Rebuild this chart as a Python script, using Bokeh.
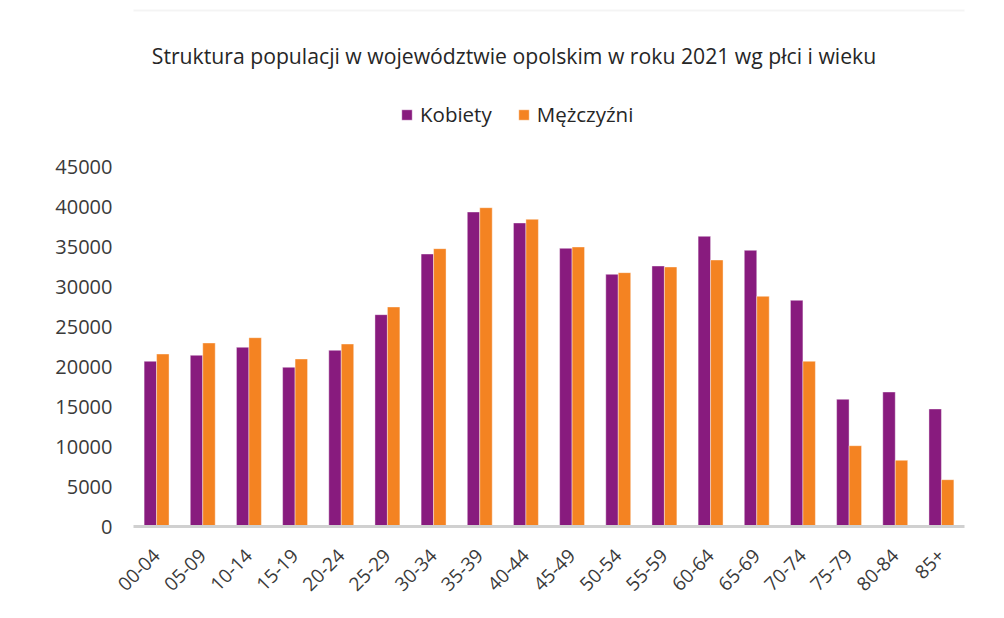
from bokeh.plotting import figure
from bokeh.models import (ColumnDataSource, Range1d, FixedTicker, Legend, LegendItem,
                          NumeralTickFormatter, BoxAnnotation)
from bokeh.transform import dodge
from bokeh.core.properties import value
from bokeh.embed import file_html
from bokeh.resources import INLINE
import math

# ---- data ----
ages = ["00-04", "05-09", "10-14", "15-19", "20-24", "25-29", "30-34", "35-39", "40-44",
        "45-49", "50-54", "55-59", "60-64", "65-69", "70-74", "75-79", "80-84", "85+"]
kobiety = [20650, 21400, 22400, 19900, 22020, 26480, 34060, 39310, 37940,
           34770, 31520, 32560, 36270, 34520, 28270, 15900, 16810, 14690]
mezczyzni = [21560, 22940, 23600, 20940, 22810, 27440, 34730, 39850, 38400,
             34940, 31730, 32440, 33310, 28770, 20650, 10100, 8270, 5850]
y_ticks = [0, 5000, 10000, 15000, 20000, 25000, 30000, 35000, 40000, 45000]
title_text = "Struktura populacji w województwie opolskim w roku 2021 wg płci i wieku"
series_names = ["Kobiety", "Mężczyźni"]

PURPLE = "#881B7E"
ORANGE = "#F48322"
FONT = "Open Sans"

# ---- layout (pixels, canvas coordinates) ----
W, H = 988, 602
LEFT, RIGHT, BOTTOM = 133, 24, 76
frame_h = H - BOTTOM
px_per_unit = 360 / 45000.0
y_top = frame_h / px_per_unit
frame_w = W - LEFT - RIGHT
cat_px = frame_w / len(ages)

src = ColumnDataSource(dict(age=ages, k=kobiety, m=mezczyzni))

p = figure(x_range=ages, y_range=Range1d(0, y_top), width=W, height=H,
           output_backend="svg", toolbar_location=None,
           min_border_left=LEFT, min_border_right=RIGHT,
           min_border_bottom=BOTTOM, min_border_top=0)
p.outline_line_color = None
p.xgrid.grid_line_color = None
p.ygrid.grid_line_color = None
p.background_fill_color = "white"
p.border_fill_color = "white"

bw = 0.27
rk = p.vbar(x=dodge("age", -bw / 2, range=p.x_range), top="k", width=bw, source=src,
            fill_color=PURPLE, line_color="white", line_alpha=0.5, line_width=0.8)
rm = p.vbar(x=dodge("age", bw / 2, range=p.x_range), top="m", width=bw, source=src,
            fill_color=ORANGE, line_color="white", line_alpha=0.5, line_width=0.8)

# y axis
p.yaxis.ticker = FixedTicker(ticks=y_ticks)
p.yaxis.formatter = NumeralTickFormatter(format="0")
p.yaxis.axis_line_color = None
p.yaxis.major_tick_line_color = None
p.yaxis.major_tick_out = 0
p.yaxis.major_tick_in = 0
p.yaxis.minor_tick_line_color = None
p.yaxis.major_label_standoff = 21
p.yaxis.major_label_text_font = FONT
p.yaxis.major_label_text_font_size = "20px"
p.yaxis.major_label_text_color = "#3a3a3a"

# x axis
p.xaxis.axis_line_color = "#D0D0D0"
p.xaxis.axis_line_width = 3
p.xaxis.major_tick_line_color = None
p.xaxis.major_tick_out = 0
p.xaxis.major_tick_in = 0
p.xaxis.minor_tick_line_color = None
p.xaxis.major_label_orientation = math.pi / 4
p.xaxis.major_label_standoff = 26
p.xaxis.major_label_text_font = FONT
p.xaxis.major_label_text_font_size = "19px"
p.xaxis.major_label_text_color = "#3a3a3a"

# title as text in the upper part of the frame
title_px_x = 513.5
title_px_y = 55
p.text(x=[(title_px_x - LEFT) / cat_px], y=[(frame_h - title_px_y) / px_per_unit],
       text=[title_text], text_font=value(FONT), text_font_size="21.2px",
       text_color="#262626", text_align="center", text_baseline="middle")

legend = Legend(items=[LegendItem(label=series_names[0], renderers=[rk]),
                       LegendItem(label=series_names[1], renderers=[rm])],
                orientation="horizontal", location=(267, 398),
                glyph_width=13, glyph_height=13, label_standoff=7, spacing=25,
                padding=0, margin=0, border_line_color=None, background_fill_alpha=0,
                label_text_font=FONT, label_text_font_size="20.5px", label_text_color="#262626")
p.add_layout(legend, "center")

# light chart-area border (left and top edges)
try:
    border = BoxAnnotation(left=7, right=W + 20, top=10, bottom=H + 20,
                           left_units="canvas", right_units="canvas",
                           top_units="canvas", bottom_units="canvas",
                           fill_alpha=0, line_color="#D9D9D9", line_width=2)
    p.add_layout(border)
except Exception:
    pass

open("out.html", "w").write(file_html(p, INLINE))
